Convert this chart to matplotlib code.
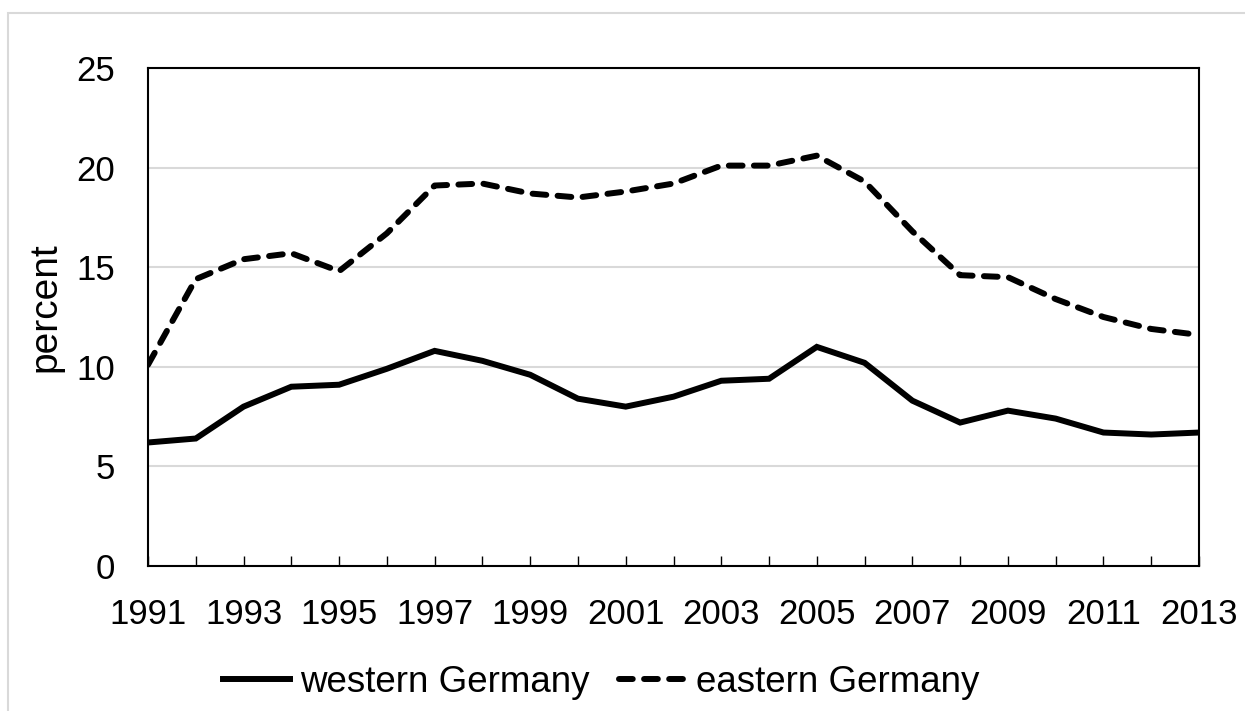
import matplotlib.pyplot as plt
from matplotlib.patches import Rectangle

years = list(range(1991, 2014))
western = [6.2, 6.4, 8.0, 9.0, 9.1, 9.9, 10.8, 10.3, 9.6, 8.4, 8.0, 8.5,
           9.3, 9.4, 11.0, 10.2, 8.3, 7.2, 7.8, 7.4, 6.7, 6.6, 6.7]
eastern = [10.1, 14.4, 15.4, 15.7, 14.8, 16.7, 19.1, 19.2, 18.7, 18.5, 18.8, 19.2,
           20.1, 20.1, 20.6, 19.3, 16.8, 14.6, 14.5, 13.4, 12.5, 11.9, 11.6]
y_ticks = [0, 5, 10, 15, 20, 25]

plt.rcParams['font.family'] = ['Liberation Sans', 'DejaVu Sans']

W, H = 1245, 711
fig = plt.figure(figsize=(W / 100, H / 100), dpi=100)
ax = fig.add_axes([148 / W, (H - 566) / H, (1199 - 148) / W, (566 - 68) / H])

# chart-area border: only top and left edges fall inside the picture
fig.patches.append(Rectangle((8 / W, -0.05), 1.1, 1.05 - 13 / H, transform=fig.transFigure,
                             fill=False, edgecolor='#d9d9d9', linewidth=1.5))

ax.plot(years, western, color='black', linewidth=4.3, solid_joinstyle='miter',
        label='western Germany')
ax.plot(years, eastern, color='black', linewidth=4.3, linestyle=(0, (2.3, 1.9)),
        dash_capstyle='round', label='eastern Germany')

ax.set_xlim(1991, 2013)
ax.set_ylim(0, 25)
ax.set_xticks(years)
ax.set_xticklabels([str(y) if (y - 1991) % 2 == 0 else '' for y in years])
ax.set_yticks(y_ticks)
ax.grid(axis='y', color='#d9d9d9', linewidth=1.5)
ax.set_axisbelow(True)

ax.tick_params(axis='x', direction='in', length=7.5, width=1.0, pad=23, labelsize=25)
ax.tick_params(axis='y', length=0, pad=24, labelsize=25)
for s in ax.spines.values():
    s.set_linewidth(1.5)

fig.text(55 / W, 1 - 307 / H, 'percent', rotation=90, rotation_mode='anchor',
         ha='center', va='baseline', fontsize=28)

ax.legend(loc='center', bbox_to_anchor=(601 / W, 1 - 682 / H), bbox_transform=fig.transFigure,
          ncol=2, frameon=False, fontsize=26.5, handlelength=1.82, handletextpad=0.27,
          columnspacing=0.79, borderpad=0)

fig.savefig('out.png', dpi=100)
